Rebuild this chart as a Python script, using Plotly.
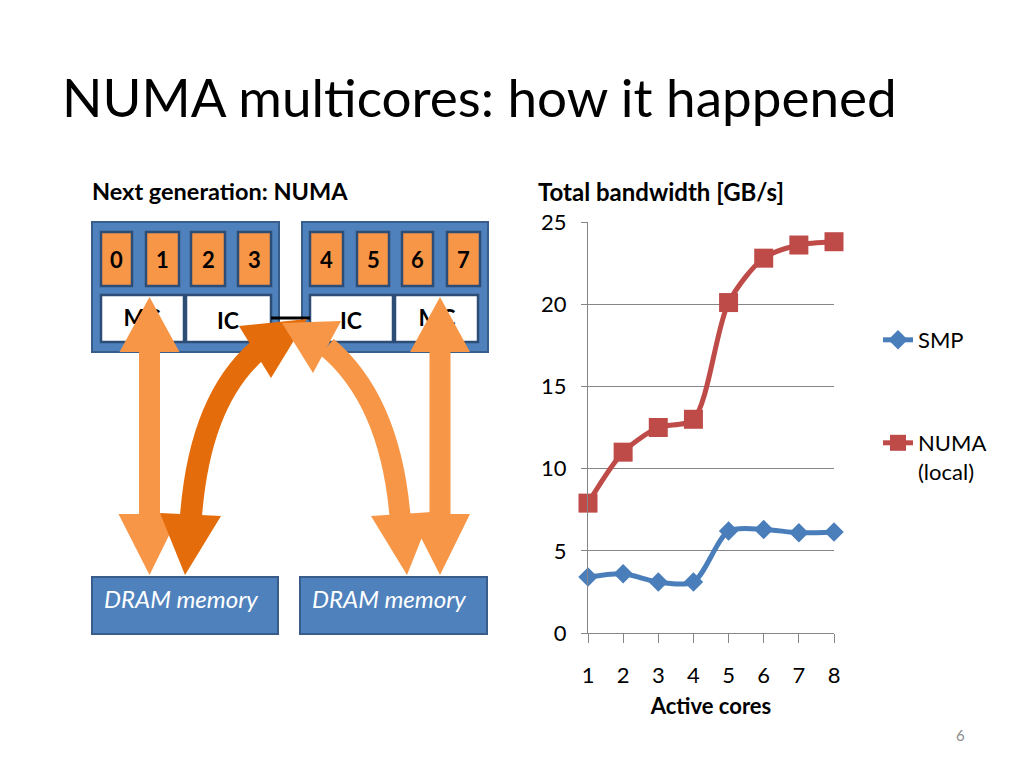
import plotly.graph_objects as go

# ---------------- data ----------------
cores = [1, 2, 3, 4, 5, 6, 7, 8]
smp = [3.4, 3.6, 3.1, 3.1, 6.2, 6.3, 6.1, 6.15]
numa_local = [7.9, 11.0, 12.5, 13.0, 20.1, 22.8, 23.6, 23.8]
y_ticks = [0, 5, 10, 15, 20, 25]
core_labels = ["0", "1", "2", "3", "4", "5", "6", "7"]

FONT = "Lato"
BLUE = "#4F81BD"
BLUE_DARK = "#385D8A"
ORANGE = "#F79646"
ORANGE_DARK = "#E46C0A"
GRID = "#868686"

W, H = 1024, 768

fig = go.Figure()

# ---------------- chart ----------------
fig.add_trace(go.Scatter(
    x=cores, y=smp, name="SMP", mode="lines+markers",
    line=dict(color="#4A7EBB", width=5, shape="spline", smoothing=0.8),
    marker=dict(symbol="diamond", size=15, color="#4A7EBB"),
    cliponaxis=False, legend="legend"))
fig.add_trace(go.Scatter(
    x=cores, y=numa_local, name="NUMA<br>(local)", mode="lines+markers",
    line=dict(color="#BE4B48", width=5, shape="spline", smoothing=0.8),
    marker=dict(symbol="square", size=19, color="#BE4B48"),
    cliponaxis=False, legend="legend2"))

# ---------------- diagram (pixel overlay axis) ----------------
shapes = []

def rect(x0, y0, x1, y1, fill, line, lw=2, layer="below"):
    shapes.append(dict(type="rect", xref="x2", yref="y2", x0=x0, y0=y0, x1=x1, y1=y1,
                       fillcolor=fill, line=dict(color=line, width=lw), layer=layer))

def poly(pts, fill, layer="above"):
    p = "M" + " L".join(f"{a},{b}" for a, b in pts) + " Z"
    shapes.append(dict(type="path", xref="x2", yref="y2", path=p, fillcolor=fill,
                       line=dict(width=0), layer=layer))

def curve(p0, c, p2, color, width):
    p = f"M{p0[0]},{p0[1]} Q{c[0]},{c[1]} {p2[0]},{p2[1]}"
    shapes.append(dict(type="path", xref="x2", yref="y2", path=p,
                       line=dict(color=color, width=width), layer="above"))

# nodes
rect(92, 222, 279, 352, BLUE, BLUE_DARK)
rect(302, 222, 488, 352, BLUE, BLUE_DARK)
core_x = [(101, 132), (146, 179), (191, 225), (238, 271), (310, 343), (357, 389), (402, 433), (447, 480)]
for x0, x1 in core_x:
    rect(x0, 232, x1, 286, ORANGE, "#2C4D75", lw=2.5)
# memory/interconnect controllers
for x0, x1 in [(101, 184), (186, 271), (310, 393), (395, 478)]:
    rect(x0, 295, x1, 342, "white", "#2C4D75", lw=2.5)
# interconnect link
shapes.append(dict(type="line", xref="x2", yref="y2", x0=271, y0=318, x1=310, y1=318,
                   line=dict(color="black", width=3), layer="below"))
# DRAM boxes
rect(92, 577, 278, 634, BLUE, BLUE_DARK)
rect(300, 577, 487, 634, BLUE, BLUE_DARK)

# vertical arrows (light orange)
for cx in (149.5, 440):
    shapes.append(dict(type="line", xref="x2", yref="y2", x0=cx, y0=350, x1=cx, y1=516,
                       line=dict(color=ORANGE, width=21), layer="above"))
    poly([(cx - 30, 352), (cx, 297), (cx + 30, 352)], ORANGE)
    poly([(cx - 31, 514), (cx, 575), (cx + 30, 514)], ORANGE)

# dark orange curved arrow
curve((191, 516), (200, 400), (258, 350), ORANGE_DARK, 22)
poly([(160, 513), (185, 575), (221, 516)], ORANGE_DARK)
poly([(239, 326), (307, 319), (271, 378)], ORANGE_DARK)

# light orange curved arrow
curve((400, 516), (390, 400), (327, 347), ORANGE, 21)
poly([(371, 516), (407, 575), (432, 512)], ORANGE)
poly([(341, 321), (282, 323), (313, 373)], ORANGE)

# MC text hidden under the arrows (trace, so arrows draw on top)
fig.add_trace(go.Scatter(
    x=[142, 437], y=[320, 320], mode="text", text=["MC", "MC"],
    textfont=dict(family=FONT, size=23, color="black", weight="bold"),
    xaxis="x2", yaxis="y2", showlegend=False, hoverinfo="skip"))

annotations = []
def txt(x, y, s, size, color="black", bold=False, italic=False, xanchor="center"):
    annotations.append(dict(
        x=x, y=y, xref="x2", yref="y2", text=s, showarrow=False, xanchor=xanchor,
        yanchor="middle",
        font=dict(family=FONT, size=size, color=color,
                  weight="bold" if bold else "normal",
                  style="italic" if italic else "normal")))

for (x0, x1), lab in zip(core_x, core_labels):
    txt((x0 + x1) / 2, 259, lab, 22, bold=True)
txt(228, 320, "IC", 23, bold=True)
txt(351, 320, "IC", 23, bold=True)
txt(181, 598, "DRAM memory", 24, color="white", italic=True)
txt(389, 598, "DRAM memory", 24, color="white", italic=True)

# slide text
txt(60, 96, "NUMA multicores: how it happened", 53, xanchor="left")
txt(90, 191, "Next generation: NUMA", 23.5, bold=True, xanchor="left")
txt(536, 191, "Total bandwidth [GB/s]", 24, bold=True, xanchor="left")
txt(960, 735, "6", 15, color="#8C8C8C")

fig.update_layout(
    width=W, height=H, margin=dict(l=0, r=0, t=0, b=0, pad=0, autoexpand=False),
    paper_bgcolor="white", plot_bgcolor="rgba(0,0,0,0)",
    font=dict(family=FONT, color="black"),
    shapes=shapes, annotations=annotations,
    xaxis=dict(domain=[588 / W, 834 / W], range=[1, 8], tickvals=cores,
               showgrid=False, zeroline=False, showline=True, linecolor=GRID, linewidth=1,
               ticks="outside", ticklen=9, tickcolor=GRID, ticklabelstandoff=14,
               tickfont=dict(family=FONT, size=22, color="black"),
               title=dict(text="<b>Active cores</b>", font=dict(family=FONT, size=22, color="black"),
                          standoff=11),
               automargin=False, anchor="y"),
    yaxis=dict(domain=[1 - 633 / H, 1 - 222 / H], range=[0, 25], tickvals=y_ticks,
               showgrid=True, gridcolor=GRID, gridwidth=1, zeroline=False,
               showline=True, linecolor=GRID, linewidth=1,
               ticks="outside", ticklen=6, tickcolor=GRID, ticklabelstandoff=10,
               tickfont=dict(family=FONT, size=22, color="black"), automargin=False, anchor="x"),
    xaxis2=dict(domain=[0, 1], range=[0, W], visible=False, anchor="y2", fixedrange=True,
                automargin=False),
    yaxis2=dict(domain=[0, 1], range=[H, 0], visible=False, anchor="x2", fixedrange=True,
                automargin=False),
    legend=dict(x=878 / W, y=1 - 340 / H, xanchor="left", yanchor="middle",
                font=dict(family=FONT, size=22, color="black"), bgcolor="rgba(0,0,0,0)"),
    legend2=dict(x=878 / W, y=1 - 422 / H, xanchor="left", yanchor="top", valign="top",
                 font=dict(family=FONT, size=22, color="black"), bgcolor="rgba(0,0,0,0)"),
    showlegend=True,
)

fig.write_html("out.html", config={"displayModeBar": False},
               post_script="document.body.style.margin='0px';")
